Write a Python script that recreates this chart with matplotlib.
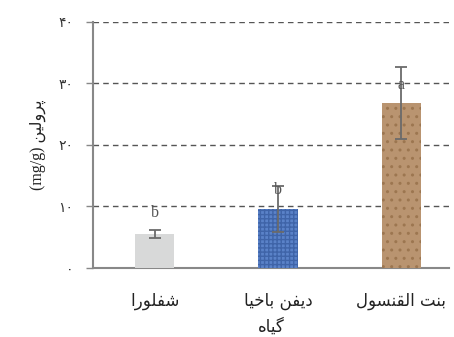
import matplotlib
matplotlib.use("Agg")
import matplotlib.pyplot as plt

# ---------- data ----------
categories = ["شفلورا", "دیفن باخیا", "بنت القنسول"]
means = [5.5, 9.6, 26.8]
errors = [0.6, 3.7, 5.8]
letters = ["b", "b", "a"]
letter_y = [8.9, 12.7, 29.7]
yticks = [0, 10, 20, 30, 40]
ytick_labels = ["۰", "۱۰", "۲۰", "۳۰", "۴۰"]
xlabel_text = "گیاه"
ylabel_fa = "پرولین"
ylabel_unit = "(mg/g)"

# ---------- minimal Arabic/Persian shaping (presentation forms) ----------
FORMS = {
    "ا": ("\uFE8D", "\uFE8E", None, None),
    "ب": ("\uFE8F", "\uFE90", "\uFE91", "\uFE92"),
    "ت": ("\uFE95", "\uFE96", "\uFE97", "\uFE98"),
    "خ": ("\uFEA5", "\uFEA6", "\uFEA7", "\uFEA8"),
    "د": ("\uFEA9", "\uFEAA", None, None),
    "ر": ("\uFEAD", "\uFEAE", None, None),
    "س": ("\uFEB1", "\uFEB2", "\uFEB3", "\uFEB4"),
    "ش": ("\uFEB5", "\uFEB6", "\uFEB7", "\uFEB8"),
    "ف": ("\uFED1", "\uFED2", "\uFED3", "\uFED4"),
    "ق": ("\uFED5", "\uFED6", "\uFED7", "\uFED8"),
    "ل": ("\uFEDD", "\uFEDE", "\uFEDF", "\uFEE0"),
    "ن": ("\uFEE5", "\uFEE6", "\uFEE7", "\uFEE8"),
    "ه": ("\uFEE9", "\uFEEA", "\uFEEB", "\uFEEC"),
    "و": ("\uFEED", "\uFEEE", None, None),
    "ی": ("\uFBFC", "\uFBFD", "\uFBFE", "\uFBFF"),
    "گ": ("\uFB92", "\uFB93", "\uFB94", "\uFB95"),
    "پ": ("\uFB56", "\uFB57", "\uFB58", "\uFB59"),
}


def shape(word):
    out = []
    n = len(word)
    for i, ch in enumerate(word):
        if ch not in FORMS:
            out.append(ch)
            continue
        iso, fin, ini, med = FORMS[ch]
        prev = word[i - 1] if i > 0 else None
        nxt = word[i + 1] if i < n - 1 else None
        join_prev = prev in FORMS and FORMS[prev][2] is not None
        join_next = nxt in FORMS and ini is not None
        if join_prev and join_next:
            out.append(med)
        elif join_prev:
            out.append(fin)
        elif join_next:
            out.append(ini)
        else:
            out.append(iso)
    return "".join(out)


def rtl(text):
    words = text.split(" ")
    return " ".join(shape(w)[::-1] for w in reversed(words))


# ---------- figure ----------
fig = plt.figure(figsize=(4.54, 3.37), dpi=100)
ax = fig.add_axes([0.205, 0.205, 0.785, 0.73])

colors = ["#d8d9d9", "#5a82c8", "#b99470"]
edge = ["#c9caca", "#3f64a8", "#9c7650"]
hatches = ["", "++++", ".."]
x = list(range(len(categories)))
bars = ax.bar(x, means, width=0.32, color=colors, zorder=3, linewidth=0)
for b, h, ec in zip(bars, hatches, edge):
    b.set_hatch(h)
    b.set_edgecolor(ec)
    b.set_linewidth(0)
ax.errorbar(x, means, yerr=errors, fmt="none", ecolor="#6b6b6b",
            elinewidth=1.3, capsize=4, capthick=1.3, zorder=4)

serif = ["Liberation Serif", "DejaVu Sans"]
for xi, lt, ly in zip(x, letters, letter_y):
    ax.text(xi, ly, lt, ha="center", va="center", fontsize=11.5,
            family=serif, color="#555555", zorder=5)

ax.set_xlim(-0.5, 2.39)
ax.set_ylim(0, 40)
ax.set_yticks(yticks)
ax.set_yticklabels(ytick_labels, fontsize=10, family="DejaVu Sans", color="#333333")
ax.set_xticks(x)
ax.set_xticklabels([rtl(c) for c in categories], fontsize=12,
                   family="DejaVu Sans", color="#222222")
ax.tick_params(axis="x", length=0, pad=17)
ax.tick_params(axis="y", length=5, color="#888888", width=1, pad=9)

ax.grid(axis="y", linestyle=(0, (4, 3)), color="#555555", linewidth=1, zorder=1)
for s in ["top", "right"]:
    ax.spines[s].set_visible(False)
for s in ["left", "bottom"]:
    ax.spines[s].set_color("#888888")
    ax.spines[s].set_linewidth(1.5)

ax.set_xlabel(rtl(xlabel_text), fontsize=12, family="DejaVu Sans",
              color="#222222", labelpad=6)
ax.set_ylabel(ylabel_unit + " " + rtl(ylabel_fa), fontsize=11.5, family=serif,
              color="#222222", labelpad=9)

fig.savefig("out.png", dpi=100)
